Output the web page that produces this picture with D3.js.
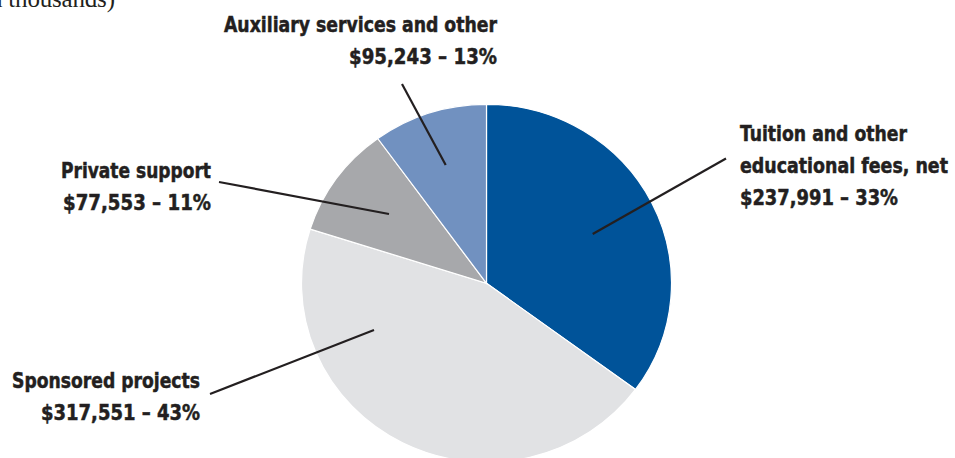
<!DOCTYPE html>
<html>
<head>
<meta charset="utf-8">
<script src="https://cdn.jsdelivr.net/npm/d3@7/dist/d3.min.js"></script>
<style>
  html, body { margin: 0; padding: 0; background: #fff; }
  svg { display: block; }
  .lbl { font-family: "DejaVu Sans Condensed", "Liberation Sans Narrow", "Liberation Sans", sans-serif; font-weight: bold; fill: #231f20; stroke: #231f20; stroke-width: 0.5px; }
</style>
</head>
<body>
<svg id="chart" width="955" height="458"></svg>
<script>
// ---- data ----
const categories = ["Tuition and other educational fees, net", "Sponsored projects", "Private support", "Auxiliary services and other"];
const amounts = [237991, 317551, 77553, 95243];           // $ thousands (as labelled)
const percents = [33, 43, 11, 13];                        // labelled percentages
const drawnShares = [35.1, 44.8, 10.1, 10.0];             // slice sizes as drawn in the picture (%)
const labelLines = [
  ["Tuition and other", "educational fees, net"],
  ["Sponsored projects"],
  ["Private support"],
  ["Auxiliary services and other"]
];
const colors = ["#005399", "#e1e2e4", "#a7a8ab", "#7191c0"];

// ---- layout ----
const cx = 486.5, cy = 283.3, rx = 185, ry = 179;
const fmt = d3.format(",");

const svg = d3.select("#chart");

// header fragment (cut off at top)
svg.append("text")
  .attr("x", 115).attr("y", 6.5)
  .attr("text-anchor", "end")
  .style("font-family", "'Liberation Serif', 'DejaVu Serif', serif")
  .style("font-size", "25px")
  .style("fill", "#231f20")
  .attr("textLength", 140)
  .text("(in thousands)");

const pie = d3.pie().sort(null).value(d => d);
const arcs = pie(drawnShares);
const arc = d3.arc().innerRadius(0).outerRadius(rx);

const g = svg.append("g").attr("transform", `translate(${cx},${cy}) scale(1,${ry / rx})`);
g.selectAll("path")
  .data(arcs)
  .join("path")
  .attr("d", arc)
  .attr("fill", (d, i) => colors[i])
  .attr("stroke", "#ffffff")
  .attr("stroke-width", 1.2)
  .attr("vector-effect", "non-scaling-stroke");

// label layout: anchor position, alignment, per-line widths, leader line (outer end / inner end)
const labelLayout = [
  { x: 740, y: 140.5, anchor: "start", widths: [167, 208, 158], line: [[726, 158.5], [592.7, 234]] },
  { x: 200, y: 388,   anchor: "end",   widths: [188, 159],      line: [[210, 394], [374, 330]] },
  { x: 211, y: 177.5, anchor: "end",   widths: [150, 148],      line: [[219, 182], [389, 214]] },
  { x: 497, y: 31.5,  anchor: "end",   widths: [273, 148],      line: [[402, 84], [445.7, 165]] }
];
const lineGap = 32;
const fontSize = 22;

categories.forEach((c, i) => {
  const L = labelLayout[i];
  const lines = labelLines[i].concat([`$${fmt(amounts[i])} \u2013 ${percents[i]}%`]);
  lines.forEach((s, k) => {
    svg.append("text")
      .attr("class", "lbl")
      .attr("text-anchor", L.anchor)
      .style("font-size", fontSize + "px")
      .attr("x", L.x).attr("y", L.y + k * lineGap)
      .attr("textLength", L.widths[k])
      .attr("lengthAdjust", "spacingAndGlyphs")
      .text(s);
  });
  svg.append("line")
    .attr("x1", L.line[0][0]).attr("y1", L.line[0][1])
    .attr("x2", L.line[1][0]).attr("y2", L.line[1][1])
    .attr("stroke", "#231f20")
    .attr("stroke-width", 2.2);
});
</script>
</body>
</html>
